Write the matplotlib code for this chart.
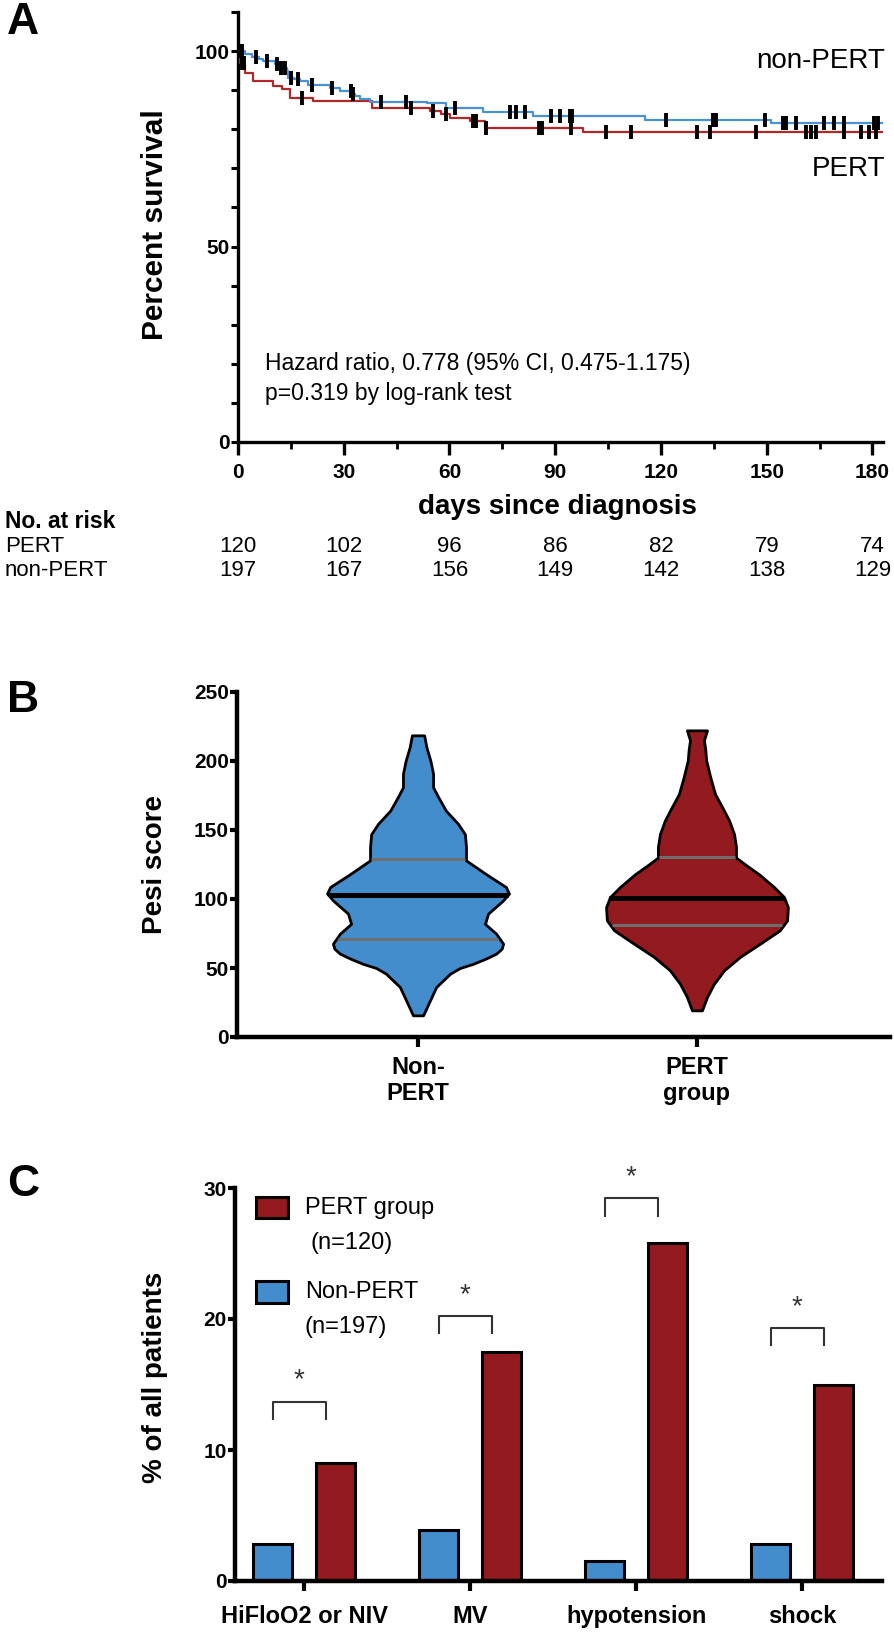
import numpy as np
import matplotlib
matplotlib.use('Agg')
import matplotlib.pyplot as plt
import matplotlib.transforms as mtransforms
from matplotlib.patches import Rectangle

plt.rcParams['font.family'] = ['Liberation Sans', 'DejaVu Sans']

W, H = 894, 1638

# ---------------- Panel A data ----------------
day_ticks = [0, 30, 60, 90, 120, 150, 180]
nonpert_t = [0, 2, 4, 6, 7.2, 10.5, 12, 13.8, 14.3, 16, 17.6, 19.9, 26.1, 28.9,
             32.2, 33.3, 34.6, 37.4, 53.5, 59.1, 69.5, 83.7, 115.4, 151.3, 160]
nonpert_s = [100, 99.3, 98.6, 97.9, 97.4, 96.6, 95.8, 94.9, 93.2, 92.8, 92.3, 91.3,
             90.6, 89.8, 89.1, 88.5, 87.7, 87.1, 86.6, 85.4, 84.4, 83.4, 82.3, 81.7, 81.5]
pert_t = [0, 0.5, 2.0, 4.3, 10, 12.4, 14.7, 21.4, 37.9, 54.4, 57.7, 60.1, 65.8, 70, 97.9]
pert_s = [100, 97.0, 94.5, 92.3, 91.1, 90.2, 88.1, 87.2, 85.5, 84.8, 83.8, 82.9, 82.1, 80.3, 79.2]
nonpert_cens = [0.5, 1.2, 5.1, 8.1, 11, 12.2, 13.4, 15, 17, 21, 26.6, 32, 32.6, 40.7,
                47.6, 61.5, 77.1, 79, 81.4, 88.9, 91.3, 94.3, 94.9, 121.5, 134.7, 135.5,
                149.4, 154.6, 155.4, 158.2, 166.4, 169.2, 172, 180.5, 181.5]
pert_cens = [1.2, 1.8, 18.1, 49.2, 55.2, 59.1, 66.7, 67.5, 70.3, 85.4, 86.2, 94.4,
             104.5, 111.6, 130.2, 133.8, 147, 161.2, 162.5, 164, 172, 176.8, 179.1, 181]
risk_pert = [120, 102, 96, 86, 82, 79, 74]
risk_nonpert = [197, 167, 156, 149, 142, 138, 129]

# ---------------- Panel B data ----------------
violin_groups = ['Non-\nPERT', 'PERT\ngroup']
nonpert_prof_y = [218.6, 210, 200.5, 190.8, 181, 174, 164, 154.6, 147, 137.7, 128, 118,
                  108.7, 103.9, 99, 89.4, 82, 74.9, 67.6, 64, 60.4, 57, 53, 50, 45.9,
                  36.2, 26.6, 15.7]
nonpert_prof_w = [.022, .030, .044, .054, .054, .072, .100, .143, .168, .172, .172, .244,
                  .315, .326, .305, .251, .240, .280, .305, .300, .280, .245, .197, .150,
                  .115, .065, .043, .018]
pert_prof_y = [222.2, 215, 208, 200.5, 188, 176, 166.7, 157, 147, 137.7, 130, 124, 118,
               108.7, 101.4, 94, 84.5, 77.3, 67.6, 58, 48.3, 38.6, 29, 19.3]
pert_prof_w = [.036, .025, .030, .033, .048, .065, .090, .115, .133, .140, .140, .180, .222,
               .276, .312, .326, .323, .297, .226, .154, .097, .061, .036, .018]
nonpert_quart = [71.3, 102.7, 129.0]
pert_quart = [81.0, 100.5, 130.4]

# ---------------- Panel C data ----------------
outcomes = ['HiFloO2 or NIV', 'MV', 'hypotension', 'shock']
nonpert_pct = [2.8, 3.9, 1.5, 2.8]
pert_pct = [9.0, 17.5, 25.8, 15.0]
sig_bracket_y = [13.7, 20.2, 29.2, 19.3]

BLUE_LINE = '#4a92d8'
RED_LINE = '#b0282c'
BLUE = '#448dcd'
RED = '#931a1e'


def px_box(left, right, top, bottom):
    return [left / W, 1 - bottom / H, (right - left) / W, (bottom - top) / H]


def fx(p):
    return p / W


def fy(p):
    return 1 - p / H


fig = plt.figure(figsize=(W / 100, H / 100), dpi=100)

# ======================= Panel A =======================
axA = fig.add_axes(px_box(238, 883, 12, 442))
xmax = 183


def step_curve(t, s):
    return list(t) + [xmax], list(s) + [s[-1]]


def surv_at(t, s, x):
    idx = np.searchsorted(np.array(t), np.array(x), side='right') - 1
    return np.array(s)[idx]


tt, ss = step_curve(pert_t, pert_s)
axA.step(tt, ss, where='post', color=RED_LINE, lw=1.6, zorder=3)
tt, ss = step_curve(nonpert_t, nonpert_s)
axA.step(tt, ss, where='post', color=BLUE_LINE, lw=1.6, zorder=3)
axA.plot(pert_cens, surv_at(pert_t, pert_s, pert_cens), ls='none', marker='|',
         ms=10, mew=2.8, color='black', zorder=4)
axA.plot(nonpert_cens, surv_at(nonpert_t, nonpert_s, nonpert_cens), ls='none', marker='|',
         ms=10, mew=2.8, color='black', zorder=4)

axA.set_xlim(0, xmax)
axA.set_ylim(0, 110)
axA.set_xticks(day_ticks)
axA.set_xticks(np.arange(15, 181, 30), minor=True)
axA.set_yticks([0, 50, 100])
axA.set_yticks(np.arange(0, 111, 10), minor=True)
for sp in ['top', 'right']:
    axA.spines[sp].set_visible(False)
for sp in ['left', 'bottom']:
    axA.spines[sp].set_linewidth(2.4)
axA.tick_params(axis='y', which='both', length=5, width=2.2, labelsize=15, pad=1)
axA.tick_params(axis='x', which='major', length=9, width=2.4, labelsize=15, pad=6)
axA.tick_params(axis='x', which='minor', length=5, width=2.0)
for lab in axA.get_xticklabels() + axA.get_yticklabels():
    lab.set_fontweight('bold')
axA.text(183.7, 97.4, 'non-PERT', ha='right', va='center', fontsize=20)
axA.text(183.7, 69.9, 'PERT', ha='right', va='center', fontsize=20)
axA.text(7.7, 20, 'Hazard ratio, 0.778 (95% CI, 0.475-1.175)', ha='left', va='center', fontsize=16.5)
axA.text(7.7, 12.5, 'p=0.319 by log-rank test', ha='left', va='center', fontsize=16.5)

fig.text(fx(155), fy(225), 'Percent survival', rotation=90, ha='center', va='center',
         fontsize=21.5, fontweight='bold')
fig.text(fx(557), fy(507), 'days since diagnosis', ha='center', va='center',
         fontsize=20, fontweight='bold')
fig.text(fx(5), fy(522), 'No. at risk', ha='left', va='center', fontsize=16.5, fontweight='bold')
fig.text(fx(5), fy(547), 'PERT', ha='left', va='center', fontsize=16)
fig.text(fx(5), fy(570), 'non-PERT', ha='left', va='center', fontsize=16)
blend = mtransforms.blended_transform_factory(axA.transData, fig.transFigure)
for d, a, b in zip(day_ticks, risk_pert, risk_nonpert):
    fig.text(d, fy(547), str(a), transform=blend, ha='center', va='center', fontsize=16)
    fig.text(d, fy(570), str(b), transform=blend, ha='center', va='center', fontsize=16)

fig.text(fx(7), fy(22), 'A', ha='left', va='center', fontsize=32, fontweight='bold')

# ======================= Panel B =======================
axB = fig.add_axes(px_box(237, 890, 692, 1037))
profiles = [(nonpert_prof_y, nonpert_prof_w, nonpert_quart, BLUE),
            (pert_prof_y, pert_prof_w, pert_quart, RED)]
for i, (py, pw, q, col) in enumerate(profiles):
    py = np.array(py)
    pw = np.array(pw)
    axB.fill_betweenx(py, i - pw, i + pw, facecolor=col, edgecolor='black', lw=2.0,
                      zorder=2, joinstyle='round')
    order = np.argsort(py)
    for k, qv in enumerate(q):
        hw = np.interp(qv, py[order], pw[order])
        if k == 1:
            axB.plot([i - hw, i + hw], [qv, qv], color='black', lw=3.6, zorder=3,
                     solid_capstyle='butt')
        else:
            axB.plot([i - hw + 0.005, i + hw - 0.005], [qv, qv], color='#6e6e6e', lw=2.2,
                     zorder=3, solid_capstyle='butt')
axB.set_xlim(-0.649, 1.692)
axB.set_ylim(0, 250)
axB.set_yticks(np.arange(0, 251, 50))
axB.set_xticks([0, 1])
axB.set_xticklabels(violin_groups)
for sp in ['top', 'right']:
    axB.spines[sp].set_visible(False)
for sp in ['left', 'bottom']:
    axB.spines[sp].set_linewidth(3.2)
axB.tick_params(axis='y', length=5, width=3.0, labelsize=15, pad=1)
axB.tick_params(axis='x', length=7, width=3.0, labelsize=17, pad=7)
for lab in axB.get_xticklabels() + axB.get_yticklabels():
    lab.set_fontweight('bold')
    lab.set_linespacing(1.15)
fig.text(fx(155), fy(865), 'Pesi score', rotation=90, ha='center', va='center',
         fontsize=20, fontweight='bold')
fig.text(fx(7), fy(700), 'B', ha='left', va='center', fontsize=32, fontweight='bold')

# ======================= Panel C =======================
axC = fig.add_axes(px_box(235, 882, 1188, 1581))
x = np.arange(len(outcomes))
bw = 0.235
off = 0.19
axC.bar(x - off, nonpert_pct, width=bw, color=BLUE, edgecolor='black', lw=2.2, zorder=2)
axC.bar(x + off, pert_pct, width=bw, color=RED, edgecolor='black', lw=2.2, zorder=2)
for xi, by in zip(x, sig_bracket_y):
    xl, xr = xi - 0.19, xi + 0.13
    axC.plot([xl, xl, xr, xr], [by - 1.3, by, by, by - 1.3], color='#333333', lw=1.5,
             zorder=3, clip_on=False)
    axC.text((xl + xr) / 2, by + 1.6, '*', ha='center', va='center', fontsize=20,
             color='#333333', clip_on=False)
axC.set_xlim(-0.416, 3.48)
axC.set_ylim(0, 30)
axC.set_yticks([0, 10, 20, 30])
axC.set_xticks(x)
axC.set_xticklabels(outcomes)
for sp in ['top', 'right']:
    axC.spines[sp].set_visible(False)
for sp in ['left', 'bottom']:
    axC.spines[sp].set_linewidth(3.2)
axC.tick_params(axis='y', length=5, width=3.0, labelsize=15, pad=1)
axC.tick_params(axis='x', length=7, width=3.0, labelsize=17, pad=10)
for lab in axC.get_xticklabels() + axC.get_yticklabels():
    lab.set_fontweight('bold')
fig.text(fx(155), fy(1377), '% of all patients', rotation=90, ha='center', va='center',
         fontsize=20, fontweight='bold')
fig.text(fx(7), fy(1185), 'C', ha='left', va='center', fontsize=32, fontweight='bold')

# legend (drawn manually)
fig.add_artist(Rectangle((fx(256), fy(1218)), 32 / W, 21 / H, transform=fig.transFigure,
                         facecolor=RED, edgecolor='black', lw=2.2))
fig.add_artist(Rectangle((fx(256), fy(1303)), 32 / W, 22 / H, transform=fig.transFigure,
                         facecolor=BLUE, edgecolor='black', lw=2.2))
fig.text(fx(305), fy(1208), 'PERT group', ha='left', va='center', fontsize=17)
fig.text(fx(310), fy(1243), '(n=120)', ha='left', va='center', fontsize=17)
fig.text(fx(305), fy(1292), 'Non-PERT', ha='left', va='center', fontsize=17)
fig.text(fx(305), fy(1327), '(n=197)', ha='left', va='center', fontsize=17)

fig.savefig('out.png', dpi=100, facecolor='white')
